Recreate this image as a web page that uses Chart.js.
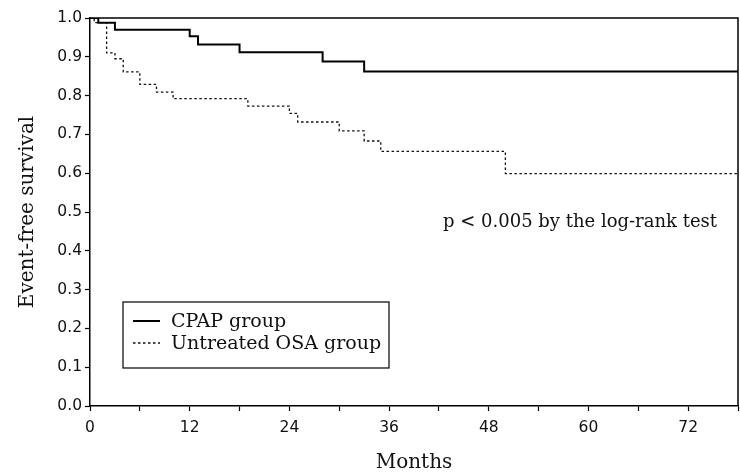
<!DOCTYPE html>
<html>
<head>
<meta charset="utf-8">
<script src="https://cdn.jsdelivr.net/npm/chart.js@4"></script>
<style>
  html, body { margin: 0; padding: 0; background: #fff; }
  #wrap { width: 740px; height: 473px; }
</style>
</head>
<body>
<div id="wrap"><canvas id="c" width="740" height="473"></canvas></div>
<script>
// ---- Data ----
const seriesNames = ["CPAP group", "Untreated OSA group"];
const cpapMonths   = [0, 1, 3, 12, 13, 18, 28, 33, 78];
const cpapSurvival = [1.0, 0.988, 0.970, 0.953, 0.932, 0.912, 0.888, 0.862, 0.862];
const osaMonths    = [0, 0.5, 2, 3, 4, 6, 8, 10, 19, 24, 25, 30, 33, 35, 50, 78];
const osaSurvival  = [1.0, 0.988, 0.910, 0.895, 0.861, 0.829, 0.809, 0.792, 0.773, 0.754, 0.732, 0.709, 0.683, 0.656, 0.599, 0.599];
const xTickLabels  = ["0", "12", "24", "36", "48", "60", "72"];
const yTickLabels  = ["0.0","0.1","0.2","0.3","0.4","0.5","0.6","0.7","0.8","0.9","1.0"];
const xTitle = "Months";
const yTitle = "Event-free survival";
const annotationText = "p < 0.005 by the log-rank test";

const toPts = (xs, ys) => xs.map((x, i) => ({ x: x, y: ys[i] }));

const SERIF = "'DejaVu Serif', serif";
const SANS = "'DejaVu Sans', sans-serif";

const boxPlugin = {
  id: 'boxAndExtras',
  afterDraw(chart) {
    const ctx = chart.ctx;
    const a = chart.chartArea;
    ctx.save();
    // top and right frame lines
    ctx.strokeStyle = '#000';
    ctx.lineWidth = 1.5;
    ctx.beginPath();
    ctx.moveTo(a.left, a.top);
    ctx.lineTo(a.right, a.top);
    ctx.lineTo(a.right, a.bottom);
    ctx.stroke();

    // annotation text
    ctx.fillStyle = '#111';
    ctx.font = "18px " + SERIF;
    ctx.textBaseline = 'middle';
    ctx.textAlign = 'left';
    ctx.fillText(annotationText, a.left + 353, 222);

    // legend box
    const bx = a.left + 33, by = 302, bw = 266, bh = 66;
    ctx.lineWidth = 1.2;
    ctx.strokeStyle = '#000';
    ctx.strokeRect(bx, by, bw, bh);
    const rows = [321, 343];
    chart.data.datasets.forEach((ds, i) => {
      ctx.save();
      ctx.strokeStyle = ds.borderColor;
      ctx.lineWidth = ds.borderWidth;
      ctx.setLineDash(ds.borderDash || []);
      ctx.beginPath();
      ctx.moveTo(bx + 10, rows[i]);
      ctx.lineTo(bx + 37, rows[i]);
      ctx.stroke();
      ctx.restore();
      ctx.fillStyle = '#111';
      ctx.font = "19px " + SERIF;
      ctx.textBaseline = 'middle';
      ctx.fillText(ds.label, bx + 48, rows[i] + 1);
    });
    ctx.restore();
  }
};

new Chart(document.getElementById('c'), {
  type: 'line',
  data: {
    datasets: [
      {
        label: seriesNames[0],
        data: toPts(cpapMonths, cpapSurvival),
        stepped: true,
        borderColor: '#000',
        borderWidth: 2,
        pointRadius: 0,
        fill: false
      },
      {
        label: seriesNames[1],
        data: toPts(osaMonths, osaSurvival),
        stepped: true,
        borderColor: '#111',
        borderWidth: 1.3,
        borderDash: [2.5, 2.5],
        pointRadius: 0,
        fill: false
      }
    ]
  },
  options: {
    responsive: false,
    animation: false,
    layout: { padding: { left: 14, right: 2, top: 18, bottom: 0 } },
    plugins: {
      legend: { display: false },
      tooltip: { enabled: false }
    },
    scales: {
      x: {
        type: 'linear',
        min: 0,
        max: 78,
        afterFit: s => { s.height = 67; s.paddingRight = 0; s.paddingLeft = 0; },
        ticks: {
          stepSize: 6,
          autoSkip: false,
          maxRotation: 0,
          color: '#111',
          font: { family: SANS, size: 15.5 },
          padding: 8,
          callback: v => (v % 12 === 0 ? xTickLabels[v / 12] : '')
        },
        grid: { drawOnChartArea: false, tickLength: 5, color: '#000', tickWidth: 1.2 },
        border: { display: true, color: '#000', width: 1.5 },
        title: {
          display: true,
          text: xTitle,
          color: '#111',
          font: { family: SERIF, size: 20 },
          padding: { top: 0, bottom: -2 }
        }
      },
      y: {
        min: 0,
        max: 1,
        afterFit: s => { s.width = 76; },
        ticks: {
          stepSize: 0.1,
          color: '#111',
          font: { family: SANS, size: 15.5 },
          padding: 3,
          callback: (v) => yTickLabels[Math.round(v * 10)]
        },
        grid: { drawOnChartArea: false, tickLength: 5, color: '#000', tickWidth: 1.2 },
        border: { display: true, color: '#000', width: 1.5 },
        title: {
          display: true,
          text: yTitle,
          color: '#111',
          font: { family: SERIF, size: 20 },
          padding: { top: 2, bottom: 0 }
        }
      }
    }
  },
  plugins: [boxPlugin]
});
</script>
</body>
</html>
